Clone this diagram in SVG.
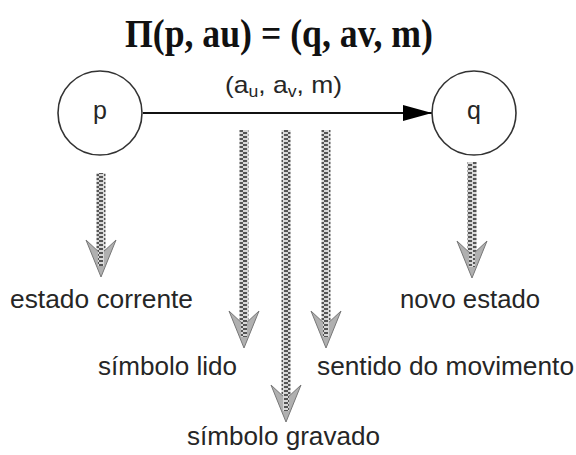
<svg xmlns="http://www.w3.org/2000/svg" width="576" height="455" viewBox="0 0 576 455">
<style>
.lbl{font-family:"Liberation Sans",Arial,sans-serif;font-size:26px;fill:#262626}
.node{fill:#fff;stroke:#333;stroke-width:1.6}
.nt{font-family:"Liberation Sans",Arial,sans-serif;font-size:25px;fill:#262626;text-anchor:middle}
.shaft{fill:url(#hatch)}
.head{fill:#b0b0b0;stroke:#777;stroke-width:1}
</style>
<defs>
<pattern id="hatch" x="0" y="0" width="9" height="4" patternUnits="userSpaceOnUse">
<rect x="0" y="0" width="9" height="4" fill="#d8d8d8"/>
<rect x="0" y="0" width="4" height="2" fill="#555"/>
<rect x="5" y="2" width="4" height="2" fill="#555"/>
</pattern>
<marker id="ah" markerWidth="29" markerHeight="16" refX="29" refY="8" orient="auto" markerUnits="userSpaceOnUse">
<path d="M0,0 L29,8 L0,16 Z" fill="#000"/>
</marker>
</defs>
<rect width="576" height="455" fill="#fff"/>
<text x="279" y="47" text-anchor="middle" font-family="Liberation Serif,'Times New Roman',serif" font-weight="bold" font-size="41" fill="#111" textLength="308" lengthAdjust="spacingAndGlyphs">Π(p, au) = (q, av, m)</text>
<g id="connectors">
<line x1="143" y1="113" x2="432" y2="113" stroke="#111" stroke-width="2" marker-end="url(#ah)"/>
<text x="225" y="93" font-family="Liberation Sans,Arial,sans-serif" font-size="24" fill="#262626" textLength="117" lengthAdjust="spacingAndGlyphs">(a<tspan font-size="16" dy="4">u</tspan><tspan dy="-4">, a</tspan><tspan font-size="16" dy="4">v</tspan><tspan dy="-4">, m)</tspan></text>
<g id="arrow-p">
<rect class="shaft" x="96.5" y="173" width="9" height="80"/>
<path class="head" d="M101,277 L86,240 L101,254 L116,240 Z"/>
<rect class="shaft" x="98" y="240" width="6" height="26"/>
</g>
<g id="arrow-lido">
<rect class="shaft" x="239.5" y="130" width="9" height="195"/>
<path class="head" d="M244,348 L229,311 L244,325 L259,311 Z"/>
<rect class="shaft" x="241" y="311" width="6" height="26"/>
</g>
<g id="arrow-gravado">
<rect class="shaft" x="281.5" y="130" width="9" height="269"/>
<path class="head" d="M286,422 L271,385 L286,399 L301,385 Z"/>
<rect class="shaft" x="283" y="385" width="6" height="26"/>
</g>
<g id="arrow-sentido">
<rect class="shaft" x="321.5" y="130" width="9" height="195"/>
<path class="head" d="M326,348 L311,311 L326,325 L341,311 Z"/>
<rect class="shaft" x="323" y="311" width="6" height="26"/>
</g>
<g id="arrow-q">
<rect class="shaft" x="467.5" y="162" width="9" height="93"/>
<path class="head" d="M472,278 L457,241 L472,255 L487,241 Z"/>
<rect class="shaft" x="469" y="241" width="6" height="26"/>
</g>
</g>
<g id="node-p">
<circle class="node" cx="100" cy="113" r="42"/>
<text class="nt" x="100" y="119">p</text>
</g>
<g id="node-q">
<circle class="node" cx="474" cy="113" r="42"/>
<text class="nt" x="474" y="119">q</text>
</g>
<g id="labels">
<text class="lbl" x="10" y="308" textLength="183" lengthAdjust="spacingAndGlyphs">estado corrente</text>
<text class="lbl" x="400" y="308" textLength="140" lengthAdjust="spacingAndGlyphs">novo estado</text>
<text class="lbl" x="98" y="375" textLength="139" lengthAdjust="spacingAndGlyphs">símbolo lido</text>
<text class="lbl" x="317" y="375" textLength="257" lengthAdjust="spacingAndGlyphs">sentido do movimento</text>
<text class="lbl" x="187" y="445" textLength="193" lengthAdjust="spacingAndGlyphs">símbolo gravado</text>
</g>
</svg>
